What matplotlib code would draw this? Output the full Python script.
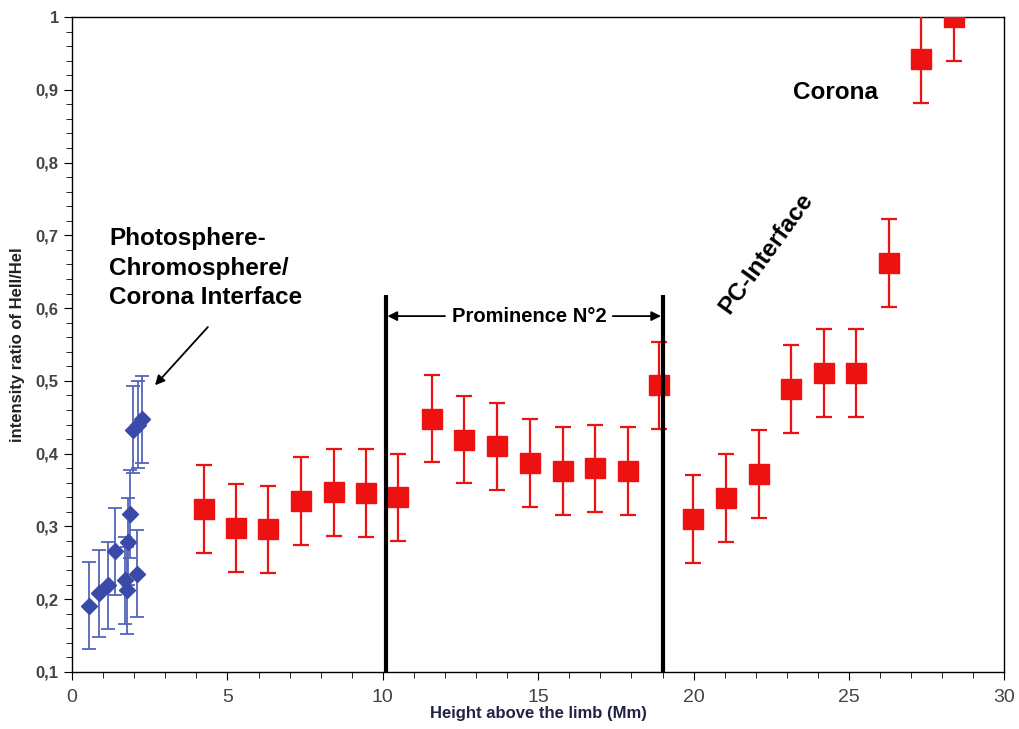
import matplotlib
matplotlib.use("Agg")
import matplotlib.pyplot as plt
from matplotlib.ticker import MultipleLocator, FuncFormatter

# blue: photosphere-chromosphere / corona interface
blue_x = [0.55, 0.88, 1.17, 1.38, 1.70, 1.76, 1.79, 1.86, 2.08, 1.97, 2.11, 2.24]
blue_y = [0.191, 0.208, 0.219, 0.266, 0.226, 0.212, 0.279, 0.317, 0.235, 0.433, 0.440, 0.447]
blue_err = 0.06

# red: prominence and corona
red_x = [4.24, 5.27, 6.30, 7.36, 8.42, 9.45, 10.5, 11.58, 12.6, 13.67, 14.73, 15.79,
         16.82, 17.88, 18.9, 19.97, 21.03, 22.09, 23.12, 24.18, 25.21, 26.27, 27.33, 28.39]
red_y = [0.324, 0.298, 0.296, 0.335, 0.347, 0.346, 0.340, 0.448, 0.419, 0.410, 0.387, 0.376,
         0.380, 0.376, 0.494, 0.310, 0.339, 0.372, 0.489, 0.511, 0.511, 0.662, 0.942, 1.0]
red_err = 0.06

prom_left = 10.1
prom_right = 19.0

narrow = ['Liberation Sans Narrow', 'Liberation Sans', 'DejaVu Sans']
plt.rcParams['font.family'] = ['Liberation Sans', 'DejaVu Sans']

fig = plt.figure(figsize=(10.19, 7.29), dpi=100)
ax = fig.add_axes([0.0707, 0.0782, 0.915, 0.8985])

ax.errorbar(blue_x, blue_y, yerr=blue_err, fmt='D', color='#3a4aa8', ms=8.5,
            ecolor='#5566bb', elinewidth=1.3, capsize=5, capthick=1.3, zorder=3)
ax.errorbar(red_x, red_y, yerr=red_err, fmt='s', color='#ee1111', ms=14,
            ecolor='#ee1111', elinewidth=1.6, capsize=6, capthick=1.6, zorder=3)

ax.vlines([prom_left, prom_right], 0.1, 0.618, colors='black', lw=3, zorder=4)
arrow = dict(arrowstyle='-|>', color='black', lw=1.3, mutation_scale=14,
             shrinkA=0, shrinkB=0)
ax.annotate('', xy=(prom_left + 0.05, 0.589), xytext=(12.0, 0.589), arrowprops=arrow)
ax.annotate('', xy=(prom_right - 0.05, 0.589), xytext=(17.4, 0.589), arrowprops=arrow)
ax.text(14.7, 0.589, 'Prominence N°2', ha='center', va='center', fontsize=14.5,
        fontweight='bold')

ax.text(1.19, 0.655, 'Photosphere-\nChromosphere/\nCorona Interface', ha='left', va='center',
        fontsize=17.5, fontweight='bold', linespacing=1.38)
ax.annotate('', xy=(2.67, 0.494), xytext=(4.37, 0.574), arrowprops=arrow)
ax.text(24.55, 0.896, 'Corona', ha='center', va='center', fontsize=17.5, fontweight='bold')
ax.text(22.35, 0.675, 'PC-Interface', ha='center', va='center', fontsize=17.5,
        fontweight='bold', rotation=54)

ax.set_xlim(0, 30)
ax.set_ylim(0.1, 1.0)
ax.xaxis.set_major_locator(MultipleLocator(5))
ax.xaxis.set_minor_locator(MultipleLocator(1))
ax.yaxis.set_major_locator(MultipleLocator(0.1))
ax.yaxis.set_minor_locator(MultipleLocator(0.02))
ax.yaxis.set_major_formatter(FuncFormatter(lambda v, p: ('%g' % round(v, 2)).replace('.', ',')))
ax.tick_params(axis='both', which='both', direction='out', color='black')
ax.tick_params(axis='both', which='major', length=6)
ax.tick_params(axis='both', which='minor', length=4)
ax.tick_params(axis='x', labelsize=14, labelcolor='#444444', pad=6)
ax.tick_params(axis='y', labelsize=12, labelcolor='#444444')
for t in ax.get_yticklabels():
    t.set_fontweight('bold')
for t in ax.get_xticklabels():
    t.set_family(narrow)
for s in ax.spines.values():
    s.set_linewidth(1.0)

ax.set_xlabel('Height above the limb (Mm)', fontsize=12, fontweight='bold', color='#222244',
              family=narrow, labelpad=0)
ax.set_ylabel('intensity ratio of HeII/HeI', fontsize=12, fontweight='bold', color='#222222',
              family=narrow, labelpad=8)

fig.savefig('out.png', dpi=100)
